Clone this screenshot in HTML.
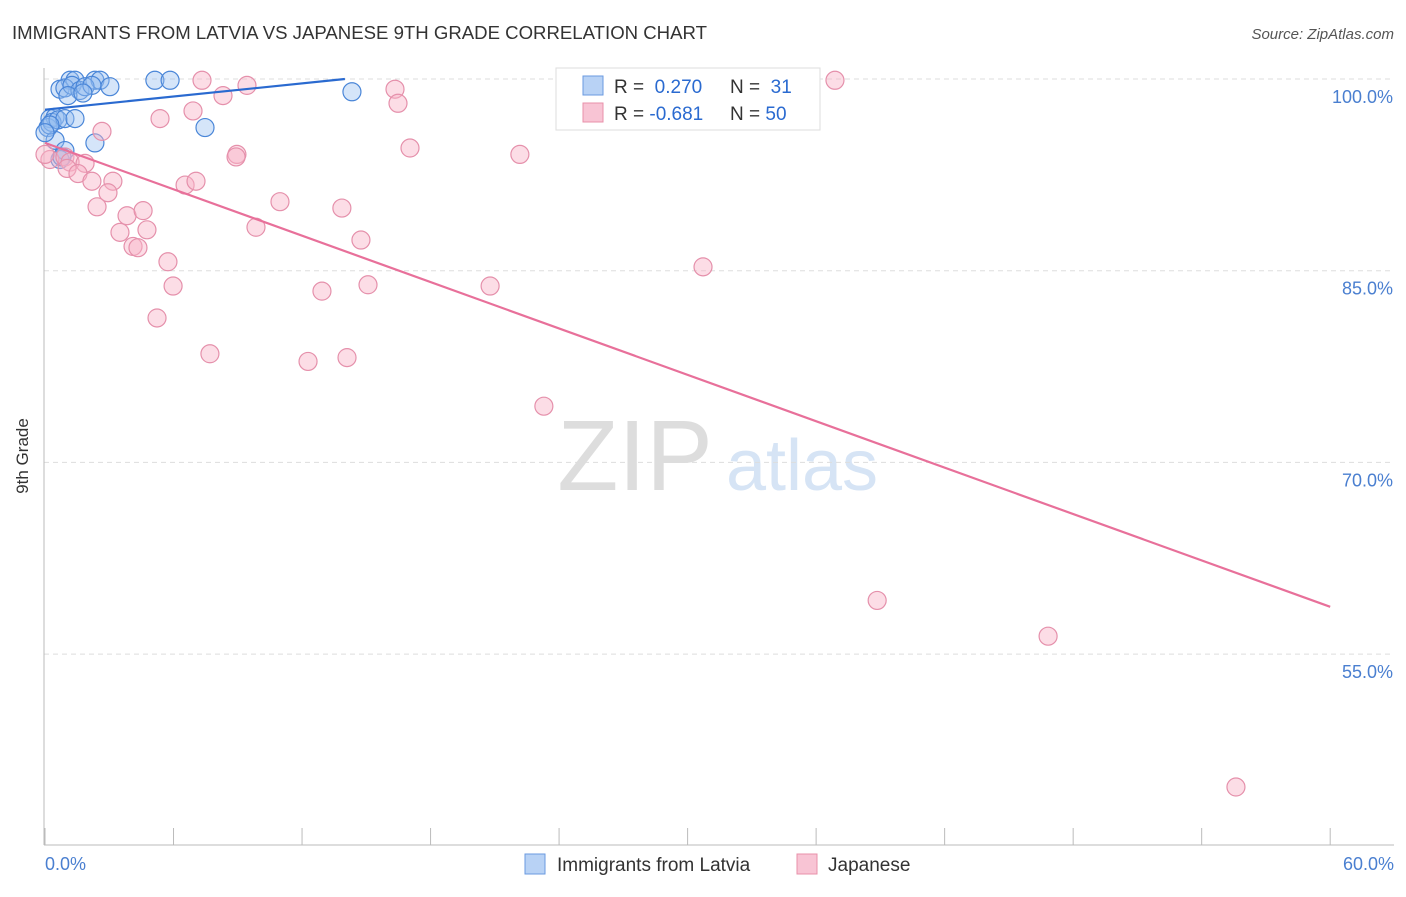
<!DOCTYPE html>
<html><head><meta charset="utf-8"><style>
body{margin:0;background:#fff;font-family:"Liberation Sans",sans-serif;}
svg text{font-family:"Liberation Sans",sans-serif;}
</style></head><body>
<svg width="1406" height="892" xmlns="http://www.w3.org/2000/svg">
<text x="12" y="39" font-size="18.6" fill="#333">IMMIGRANTS FROM LATVIA VS JAPANESE 9TH GRADE CORRELATION CHART</text>
<text x="1394" y="39" font-size="15" fill="#555" font-style="italic" text-anchor="end">Source: ZipAtlas.com</text>
<g><text x="635" y="490" font-size="100" fill="#ddd" font-family="Liberation Serif" text-anchor="middle">ZIP</text><text x="802" y="490" font-size="72" fill="#d6e4f5" text-anchor="middle">atlas</text></g>
<g id="grid"></g>
<line x1="44" y1="68" x2="44" y2="845" stroke="#bbb"/>
<line x1="44" y1="845" x2="1394" y2="845" stroke="#bbb"/>
<g id="xticks"></g>
<text x="28" y="456" font-size="17" fill="#333" text-anchor="middle" transform="rotate(-90 28 456)">9th Grade</text>
<text x="45" y="870" font-size="18" fill="#4a7fd0">0.0%</text>
<text x="1394" y="870" font-size="18" fill="#4a7fd0" text-anchor="end">60.0%</text>
<g id="pts"></g>
<g>
<rect x="556" y="68" width="264" height="62" fill="#fff" stroke="#ddd"/>
<rect x="583" y="76" width="20" height="19" fill="#b8d2f5" stroke="#6a9ae0"/>
<rect x="583" y="103" width="20" height="19" fill="#f8c4d4" stroke="#e890aa"/>
<text x="614" y="93" font-size="19" fill="#333">R = <tspan fill="#2a6ad0">&#160;0.270</tspan></text>
<text x="730" y="93" font-size="19" fill="#333">N = <tspan fill="#2a6ad0">&#160;31</tspan></text>
<text x="614" y="120" font-size="19" fill="#333">R = <tspan fill="#2a6ad0">-0.681</tspan></text>
<text x="730" y="120" font-size="19" fill="#333">N = <tspan fill="#2a6ad0">50</tspan></text>
</g>
<g>
<rect x="525" y="854" width="20" height="20" fill="#b8d2f5" stroke="#6a9ae0"/>
<text x="557" y="871" font-size="19" fill="#333">Immigrants from Latvia</text>
<rect x="797" y="854" width="20" height="20" fill="#f8c4d4" stroke="#e890aa"/>
<text x="828" y="871" font-size="19" fill="#333">Japanese</text>
</g>
</svg>
<script>
const yTicks=[100,85,70,55];
const xTickVals=[0,5,10,15,20,25,30,35,40,45,50];
const blueX=[1.17,1.4,2.33,2.57,5.13,5.84,0.7,0.93,1.26,1.63,1.87,2.19,3.03,1.07,1.77,14.33,0.23,0.47,0.14,0.33,0.61,0.93,1.4,7.47,0.47,2.33,0.93,0.7,0.79,0.23,0];
const blueY=[99.9,99.9,99.9,99.9,99.9,99.9,99.2,99.3,99.5,99.1,99.4,99.5,99.4,98.7,98.9,99.0,96.9,97.0,96.2,96.6,96.8,96.9,96.9,96.2,95.2,95.0,94.4,93.7,93.9,96.4,95.8];
const pinkX=[7.33,9.43,36.88,16.34,8.31,6.91,16.48,5.37,2.66,8.96,8.92,17.04,22.17,0.23,0.93,1.17,1.87,1.03,1.54,2.19,3.17,6.54,7.05,2.94,2.43,10.97,13.86,3.83,4.58,9.85,3.5,4.76,14.75,4.11,4.34,5.74,30.72,5.98,12.93,15.08,20.78,5.23,7.7,12.28,14.1,23.29,38.85,46.83,55.6,0];
const pinkY=[99.9,99.5,99.9,99.2,98.7,97.5,98.1,96.9,95.9,94.1,93.9,94.6,94.1,93.7,93.9,93.5,93.4,93.0,92.6,92.0,92.0,91.7,92.0,91.1,90.0,90.4,89.9,89.3,89.7,88.4,88.0,88.2,87.4,86.9,86.8,85.7,85.3,83.8,83.4,83.9,83.8,81.3,78.5,77.9,78.2,74.4,59.2,56.4,44.6,94.1];
const blueLine=[[0,97.6],[14,100]];
const pinkLine=[[0,95.0],[60,58.7]];
const X=v=>45+v*21.42, Y=v=>79+(100-v)*12.78;
const NS="http://www.w3.org/2000/svg";
function mk(tag,a,parent){const e=document.createElementNS(NS,tag);for(const k in a)e.setAttribute(k,a[k]);parent.appendChild(e);return e;}
const grid=document.getElementById('grid');
yTicks.forEach(t=>{
 const l=mk('line',{x1:44,x2:1394,y1:Y(t),y2:Y(t),stroke:'#ddd','stroke-dasharray':'5,4'},grid);
 
 
 const tx=mk('text',{x:1393,y:Y(t)+24,'font-size':18,fill:'#4a7fd0','text-anchor':'end'},grid);
 tx.textContent=t.toFixed(1)+'%';
 
 
});
const xt=document.getElementById('xticks');
xTickVals.forEach(v=>{const l=mk('line',{x1:X(v*1.2),x2:X(v*1.2),y1:828,y2:845,stroke:'#bbb'},xt);
 
 });
const p=document.getElementById('pts');
blueX.forEach((v,i)=>{const c=mk('circle',{cx:X(v),cy:Y(blueY[i]),r:9,fill:'rgba(150,190,240,0.4)',stroke:'#4a86d8','stroke-width':1.2},p);
 
 });
pinkX.forEach((v,i)=>{const c=mk('circle',{cx:X(v),cy:Y(pinkY[i]),r:9,fill:'rgba(248,180,200,0.45)',stroke:'#e590ab','stroke-width':1.2},p);
 
 });
const bl=mk('line',{x1:X(blueLine[0][0]),y1:Y(blueLine[0][1]),x2:X(blueLine[1][0]),y2:Y(blueLine[1][1]),stroke:'#2a6ad0','stroke-width':2.2},p);


const pl=mk('line',{x1:X(pinkLine[0][0]),y1:Y(pinkLine[0][1]),x2:X(pinkLine[1][0]),y2:Y(pinkLine[1][1]),stroke:'#e8709a','stroke-width':2.2},p);


</script>
</body></html>
